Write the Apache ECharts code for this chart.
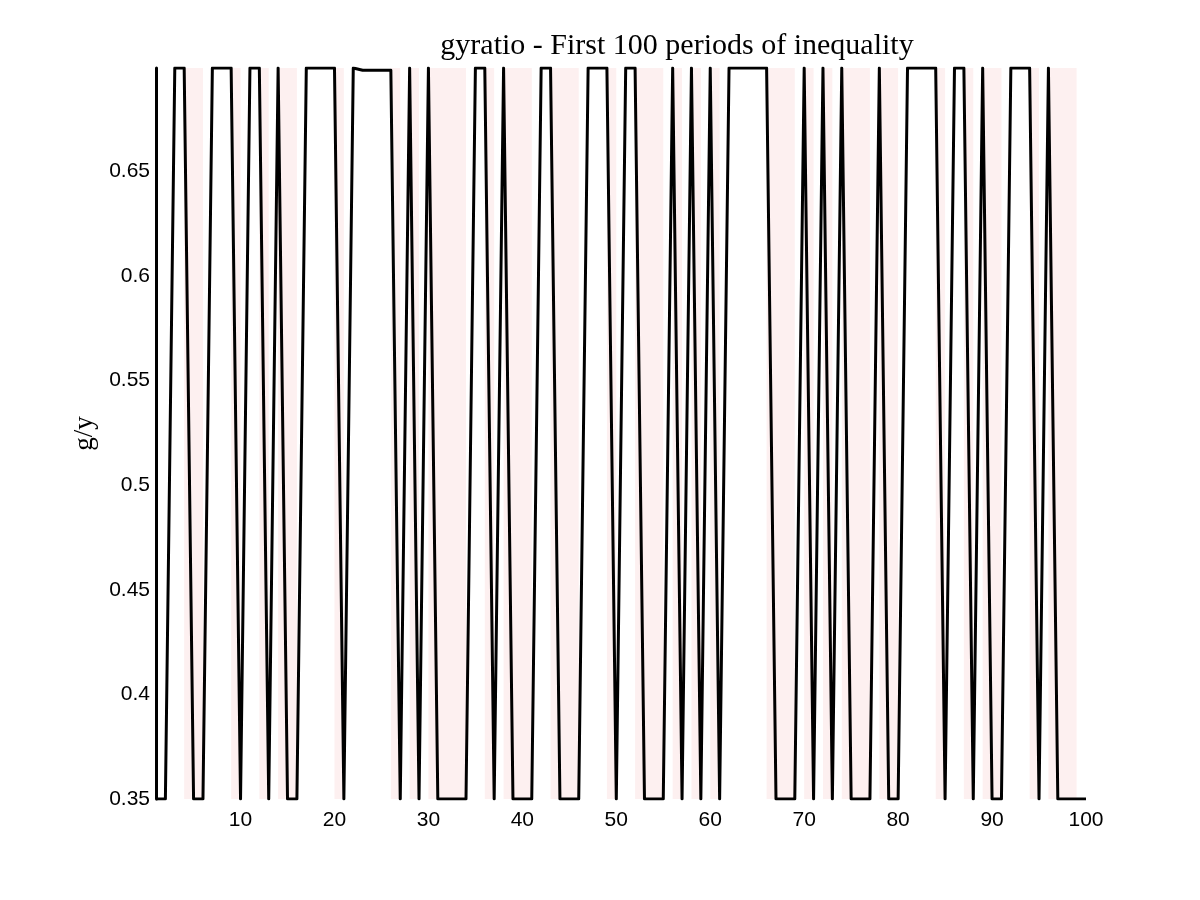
<!DOCTYPE html>
<html>
<head>
<meta charset="utf-8">
<script src="https://cdn.jsdelivr.net/npm/echarts@6/dist/echarts.min.js"></script>
<style>html,body{margin:0;padding:0;background:#fff}#c{width:1200px;height:900px}</style>
</head>
<body>
<div id="c"></div>
<script>
const H = 0.6993, L = 0.35;
const periods = Array.from({length: 100}, (_, i) => i + 1);
const gyratio = [
  L, L, H, H, L, L, H, H, H, L,
  H, H, L, H, L, L, H, H, H, H,
  L, H, 0.6982, 0.6982, 0.6982, 0.6982, L, H, L, H,
  L, L, L, L, H, H, L, H, L, L,
  L, H, H, L, L, L, H, H, H, L,
  H, H, L, L, L, H, L, H, L, H,
  L, H, H, H, H, H, L, L, L, H,
  L, H, L, H, L, L, L, H, L, L,
  H, H, H, H, L, H, H, L, H, L,
  L, H, H, H, L, H, L, L, L, L
];
const shadedBands = [
  [4,6],[9,10],[12,13],[14,16],[20,21],[26,27],[28,29],[30,34],[36,37],[38,41],
  [43,46],[49,50],[52,55],[56,57],[58,59],[60,61],[66,69],[70,71],[72,73],[74,77],
  [78,80],[84,85],[87,88],[89,91],[94,95],[96,99]
];
const xTickLabels = [10,20,30,40,50,60,70,80,90,100];
const yTicks = [0.35,0.4,0.45,0.5,0.55,0.6,0.65];

const chart = echarts.init(document.getElementById('c'), null, {renderer: 'canvas'});
chart.setOption({
  animation: false,
  backgroundColor: '#ffffff',
  title: {
    text: 'gyratio - First 100 periods of inequality',
    left: 672, top: 26, textAlign: 'center',
    textStyle: {fontFamily: 'Liberation Serif', fontWeight: 'normal', fontSize: 30, color: '#000'}
  },
  grid: {left: 156, right: 114, top: 68, bottom: 101},
  xAxis: {
    type: 'value', min: 1, max: 100,
    axisLine: {show: false}, axisTick: {show: false}, splitLine: {show: false},
    axisLabel: {customValues: xTickLabels, fontFamily: 'Liberation Sans', fontSize: 21, color: '#000', margin: 11}
  },
  yAxis: {
    type: 'value', min: 0.35, max: H,
    name: 'g/y', nameLocation: 'middle', nameGap: 58, nameRotate: 90,
    nameTextStyle: {fontFamily: 'Liberation Serif', fontSize: 27, color: '#000'},
    axisLine: {show: true, lineStyle: {color: '#000', width: 3}}, axisTick: {show: false}, splitLine: {show: false},
    axisLabel: {customValues: yTicks, fontFamily: 'Liberation Sans', fontSize: 21, color: '#000', margin: 6,
      formatter: v => String(+v.toFixed(2))}
  },
  series: [{
    type: 'line',
    data: periods.map((p, i) => [p, gyratio[i]]),
    showSymbol: false,
    lineStyle: {color: '#000', width: 3, join: 'round'},
    markArea: {
      silent: true,
      itemStyle: {color: '#fdf0f0'},
      data: shadedBands.map(b => [{xAxis: b[0]}, {xAxis: b[1]}])
    }
  }]
});
</script>
</body>
</html>
